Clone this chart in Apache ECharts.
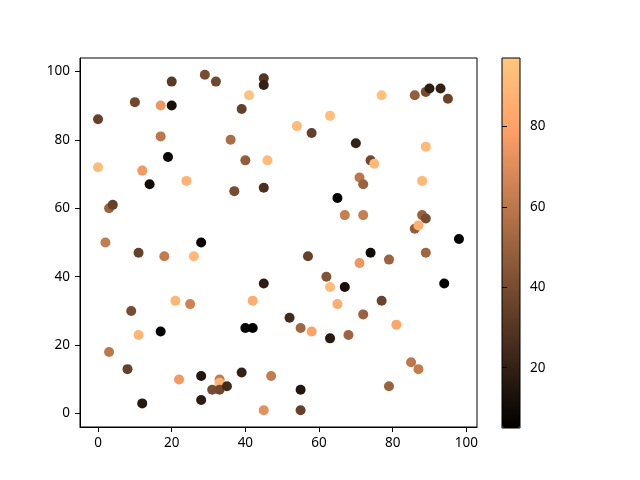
<!DOCTYPE html>
<html>
<head>
<meta charset="utf-8">
<script src="https://cdn.jsdelivr.net/npm/echarts@6/dist/echarts.min.js"></script>
<style>html,body{margin:0;padding:0;background:#fff}#c{width:640px;height:480px}</style>
</head>
<body>
<div id="c"></div>
<script>
// x, y, colour value per point
const xs = [0,0,10,17,20,20,29,32,45,45,41,39,17,36,19,12,14,24,40,46,37,45,3,4,
  2,28,11,18,26,45,21,25,42,9,17,11,40,42,3,8,22,28,33,33,31,33,35,39,47,28,12,45,
  57,74,79,89,71,62,63,67,65,77,52,55,58,63,68,72,81,85,87,79,55,55,94,
  77,86,89,90,93,95,63,54,58,70,89,74,75,71,72,88,65,67,72,88,89,86,87,98];
const ys = [86,72,91,90,90,97,99,97,98,96,93,89,81,80,75,71,67,68,74,74,65,66,60,61,
  50,50,47,46,46,38,33,32,33,30,24,23,25,25,18,13,10,11,10,9,7,7,8,12,11,4,3,1,
  46,47,45,47,44,40,37,37,32,33,28,25,24,22,23,29,26,15,13,8,7,1,38,
  93,93,94,95,95,92,87,84,82,79,78,74,73,69,67,68,63,58,58,58,57,54,55,51];
const cs = [35,92,38,75,12,32,40,38,30,20,95,35,60,55,8,76,10,88,48,92,40,27,50,35,
  62,7,35,62,90,18,89,65,85,40,6,89,6,5,60,35,76,15,62,88,40,38,25,20,62,18,16,72,
  35,10,50,52,75,43,92,12,85,36,24,52,80,17,52,50,82,60,62,50,15,35,5,
  94,48,40,18,20,36,93,92,35,20,92,38,90,60,50,90,5,63,63,50,40,48,86,5];
const xTicks = [0,20,40,60,80,100];
const yTicks = [0,20,40,60,80,100];
const cTicks = [20,40,60,80];
const cMin = 5, cMax = 97;

function copper(t){
  const r = Math.min(1, t/0.809524)*255, g = 0.7812*t*255, b = 0.4975*t*255;
  return 'rgb(' + Math.round(r) + ',' + Math.round(g) + ',' + Math.round(b) + ')';
}
const stops = [];
for (let i = 0; i <= 40; i++) stops.push(copper(i/40));

const pts = xs.map((x,i) => [x, ys[i], cs[i]]);
const font = {fontFamily:'Noto Sans', fontSize:13.5, color:'#000'};

const chart = echarts.init(document.getElementById('c'), null, {renderer:'canvas'});
chart.setOption({
  animation:false,
  backgroundColor:'#fff',
  grid:[
    {left:80, top:58, width:397, height:369, show:true, borderColor:'#000', borderWidth:1, backgroundColor:'transparent', containLabel:false},
    {left:502, top:58, width:18, height:370, show:true, borderColor:'#000', borderWidth:1, backgroundColor:'transparent', z:10, containLabel:false}
  ],
  xAxis:[
    {gridIndex:0, type:'value', min:-4.9, max:102.9, splitLine:{show:false},
     axisLine:{onZero:false, lineStyle:{color:'#000', width:1}},
     axisTick:{show:true, length:5, customValues:xTicks, lineStyle:{color:'#000'}},
     axisLabel:Object.assign({margin:9, customValues:xTicks}, font)},
    {gridIndex:1, type:'value', min:0, max:1, show:false}
  ],
  yAxis:[
    {gridIndex:0, type:'value', min:-3.9, max:103.9, splitLine:{show:false},
     axisLine:{onZero:false, lineStyle:{color:'#000', width:1}},
     axisTick:{show:true, length:5, customValues:yTicks, lineStyle:{color:'#000'}},
     axisLabel:Object.assign({margin:10, customValues:yTicks}, font)},
    {gridIndex:1, type:'value', position:'right', min:cMin, max:cMax, splitLine:{show:false}, z:10,
     axisLine:{show:false},
     axisTick:{show:true, length:5, customValues:cTicks, lineStyle:{color:'#000'}},
     axisLabel:Object.assign({margin:10, customValues:cTicks}, font)}
  ],
  visualMap:{
    type:'continuous', dimension:2, min:cMin, max:cMax, seriesIndex:0,
    calculable:false, hoverLink:false, realtime:false,
    left:502, top:58, itemWidth:18, itemHeight:370, padding:0,
    text:null, showLabel:false, orient:'vertical',
    inRange:{color:stops}
  },
  series:[{
    type:'scatter', xAxisIndex:0, yAxisIndex:0, data:pts,
    symbol:'circle', symbolSize:10, itemStyle:{opacity:1}
  }]
});
</script>
</body>
</html>
